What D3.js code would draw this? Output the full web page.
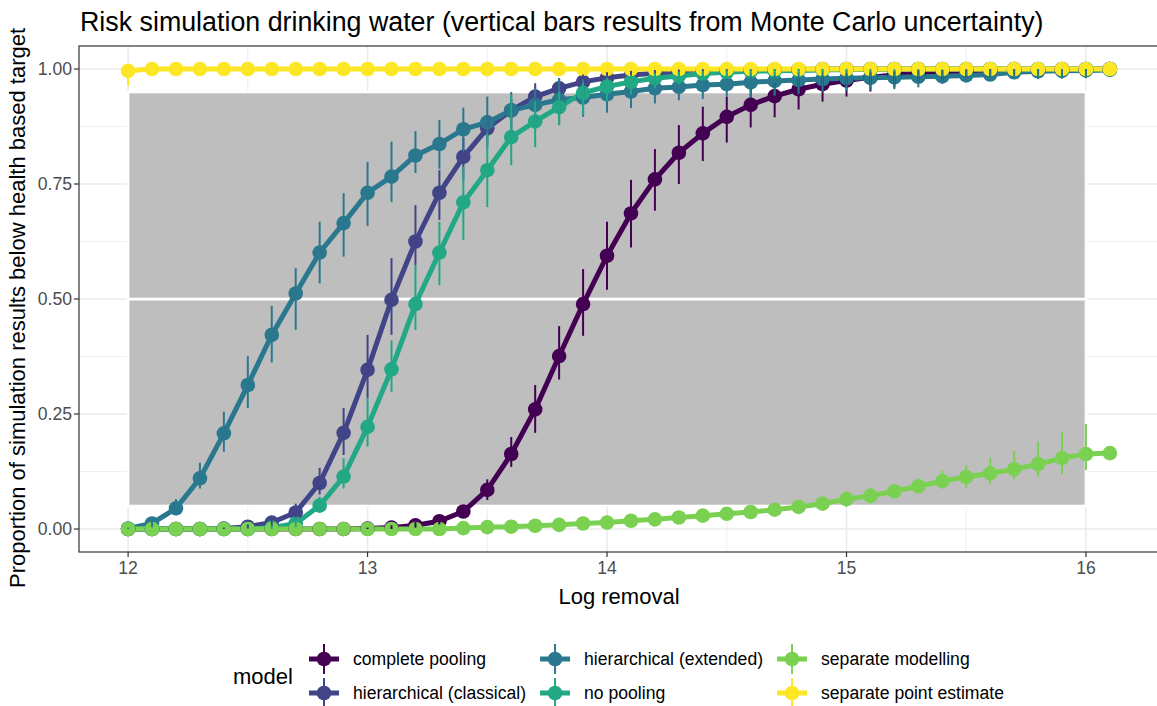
<!DOCTYPE html>
<html>
<head>
<meta charset="utf-8">
<script src="https://cdn.jsdelivr.net/npm/d3@7"></script>
<style>
  body { margin: 0; background: #fff; }
  text { font-family: "Liberation Sans", Arial, Helvetica, sans-serif; }
</style>
</head>
<body>
<svg id="chart" width="1157" height="706"></svg>
<script>
// Log removal levels evaluated
const logRemoval = [12.0, 12.1, 12.2, 12.3, 12.4, 12.5, 12.6, 12.7, 12.8, 12.9,
  13.0, 13.1, 13.2, 13.3, 13.4, 13.5, 13.6, 13.7, 13.8, 13.9,
  14.0, 14.1, 14.2, 14.3, 14.4, 14.5, 14.6, 14.7, 14.8, 14.9,
  15.0, 15.1, 15.2, 15.3, 15.4, 15.5, 15.6, 15.7, 15.8, 15.9,
  16.0, 16.1];

const models = ["complete pooling", "hierarchical (classical)", "hierarchical (extended)",
  "no pooling", "separate modelling", "separate point estimate"];
const modelColors = ["#440154", "#414487", "#2A788E", "#22A884", "#7AD151", "#FDE725"];

// Proportion below target: median and Monte Carlo interval per model
const completePooling = [0, 0, 0, 0, 0, 0, 0, 0, 0, 0,
  0.001, 0.003, 0.008, 0.017, 0.038, 0.085, 0.163, 0.26, 0.376, 0.489,
  0.594, 0.686, 0.76, 0.818, 0.86, 0.896, 0.922, 0.941, 0.956, 0.967,
  0.975, 0.982, 0.987, 0.99, 0.993, 0.995, 0.996, 0.997, 0.998, 0.999,
  0.999, 1];
const completePoolingLo = [0, 0, 0, 0, 0, 0, 0, 0, 0, 0,
  0, 0, 0.003, 0.01, 0.027, 0.063, 0.135, 0.209, 0.325, 0.42,
  0.52, 0.612, 0.692, 0.75, 0.8, 0.84, 0.873, 0.895, 0.912, 0.929,
  0.94, 0.951, 0.96, 0.97, 0.975, 0.98, 0.985, 0.988, 0.99, 0.993,
  0.995, 1];
const completePoolingHi = [0, 0, 0, 0, 0, 0, 0, 0, 0, 0,
  0.003, 0.008, 0.015, 0.025, 0.05, 0.108, 0.2, 0.313, 0.441, 0.565,
  0.668, 0.759, 0.826, 0.878, 0.918, 0.94, 0.958, 0.97, 0.98, 0.986,
  0.99, 0.993, 0.995, 0.997, 0.998, 0.999, 1, 1, 1, 1,
  1, 1];

const hierClassical = [0, 0, 0, 0, 0.001, 0.005, 0.014, 0.036, 0.1, 0.209,
  0.346, 0.498, 0.625, 0.731, 0.809, 0.871, 0.91, 0.94, 0.958, 0.972,
  0.981, 0.987, 0.991, 0.994, 0.996, 0.997, 0.998, 0.999, 0.999, 1,
  1, 1, 1, 1, 1, 1, 1, 1, 1, 1,
  1, 1];
const hierClassicalLo = [0, 0, 0, 0, 0, 0.001, 0.006, 0.02, 0.075, 0.161,
  0.285, 0.422, 0.574, 0.672, 0.76, 0.83, 0.87, 0.91, 0.93, 0.95,
  0.965, 0.975, 0.982, 0.987, 0.99, 0.993, 0.995, 0.996, 0.997, 0.998,
  0.999, 1, 1, 1, 1, 1, 1, 1, 1, 1,
  1, 1];
const hierClassicalHi = [0, 0, 0, 0, 0.003, 0.01, 0.025, 0.055, 0.133, 0.263,
  0.422, 0.589, 0.704, 0.78, 0.85, 0.9, 0.935, 0.969, 0.98, 0.988,
  0.993, 0.996, 0.998, 0.999, 1, 1, 1, 1, 1, 1,
  1, 1, 1, 1, 1, 1, 1, 1, 1, 1,
  1, 1];

const hierExtended = [0.001, 0.012, 0.045, 0.11, 0.208, 0.313, 0.422, 0.512, 0.601, 0.665,
  0.731, 0.766, 0.812, 0.837, 0.869, 0.884, 0.91, 0.922, 0.933, 0.938,
  0.945, 0.951, 0.958, 0.961, 0.965, 0.967, 0.971, 0.974, 0.976, 0.978,
  0.98, 0.981, 0.982, 0.983, 0.984, 0.986, 0.988, 0.993, 0.995, 0.996,
  0.997, 0.998];
const hierExtendedLo = [0, 0.004, 0.03, 0.088, 0.168, 0.263, 0.362, 0.433, 0.534, 0.592,
  0.659, 0.711, 0.774, 0.783, 0.82, 0.84, 0.86, 0.87, 0.878, 0.896,
  0.905, 0.915, 0.925, 0.932, 0.935, 0.94, 0.938, 0.942, 0.946, 0.95,
  0.952, 0.954, 0.956, 0.96, 0.968, 0.975, 0.977, 0.978, 0.978, 0.979,
  0.98, 0.998];
const hierExtendedHi = [0.003, 0.022, 0.065, 0.144, 0.255, 0.376, 0.485, 0.567, 0.668, 0.73,
  0.798, 0.842, 0.865, 0.889, 0.916, 0.94, 0.95, 0.96, 0.98, 0.978,
  0.982, 0.985, 0.987, 0.989, 0.99, 0.991, 0.992, 0.993, 0.994, 0.995,
  0.996, 0.997, 0.997, 0.998, 0.998, 0.999, 0.999, 1, 1, 1,
  1, 0.998];

const noPooling = [0, 0, 0, 0, 0, 0, 0.003, 0.012, 0.051, 0.114,
  0.222, 0.347, 0.489, 0.601, 0.71, 0.78, 0.852, 0.886, 0.917, 0.948,
  0.962, 0.972, 0.98, 0.985, 0.99, 0.993, 0.995, 0.996, 0.997, 0.998,
  0.999, 0.999, 1, 1, 1, 1, 1, 1, 1, 1,
  1, 1];
const noPoolingLo = [0, 0, 0, 0, 0, 0, 0, 0.004, 0.035, 0.088,
  0.179, 0.298, 0.433, 0.53, 0.628, 0.7, 0.791, 0.83, 0.878, 0.9,
  0.93, 0.945, 0.958, 0.967, 0.975, 0.98, 0.985, 0.988, 0.99, 0.992,
  0.994, 0.996, 0.997, 0.998, 0.999, 1, 1, 1, 1, 1,
  1, 1];
const noPoolingHi = [0, 0, 0, 0, 0, 0, 0.008, 0.025, 0.07, 0.154,
  0.285, 0.41, 0.574, 0.668, 0.788, 0.86, 0.943, 0.93, 0.95, 0.97,
  0.98, 0.987, 0.991, 0.994, 0.996, 0.998, 0.999, 1, 1, 1,
  1, 1, 1, 1, 1, 1, 1, 1, 1, 1,
  1, 1];

const separateModelling = [0, 0, 0, 0, 0, 0, 0, 0, 0, 0,
  0, 0, 0, 0, 0.002, 0.004, 0.005, 0.007, 0.009, 0.012,
  0.014, 0.018, 0.021, 0.025, 0.029, 0.033, 0.037, 0.042, 0.048, 0.055,
  0.065, 0.072, 0.082, 0.093, 0.104, 0.113, 0.121, 0.13, 0.141, 0.154,
  0.163, 0.165];
const separateModellingLo = [0, 0, 0, 0, 0, 0, 0, 0, 0, 0,
  0, 0, 0, 0, 0, 0.001, 0.002, 0.003, 0.004, 0.006,
  0.008, 0.01, 0.013, 0.016, 0.019, 0.022, 0.025, 0.029, 0.034, 0.04,
  0.048, 0.056, 0.068, 0.078, 0.088, 0.088, 0.098, 0.108, 0.114, 0.12,
  0.128, 0.165];
const separateModellingHi = [0, 0, 0, 0, 0, 0, 0, 0, 0, 0,
  0, 0, 0, 0, 0.004, 0.007, 0.009, 0.011, 0.014, 0.018,
  0.021, 0.026, 0.03, 0.034, 0.039, 0.044, 0.049, 0.055, 0.062, 0.07,
  0.082, 0.089, 0.097, 0.11, 0.127, 0.139, 0.156, 0.17, 0.19, 0.212,
  0.228, 0.165];

const pointEstimate = [0.996, 1, 1, 1, 1, 1, 1, 1, 1, 1,
  1, 1, 1, 1, 1, 1, 1, 1, 1, 1,
  1, 1, 1, 1, 1, 1, 1, 1, 1, 1,
  1, 1, 1, 1, 1, 1, 1, 1, 1, 1,
  1, 1];
const pointEstimateLo = [0.963, 1, 1, 1, 1, 1, 1, 1, 1, 1,
  1, 1, 1, 1, 1, 1, 1, 1, 1, 1,
  1, 1, 1, 1, 1, 1, 1, 1, 1, 1,
  1, 1, 1, 1, 1, 1, 1, 1, 1, 1,
  1, 1];
const pointEstimateHi = [1, 1, 1, 1, 1, 1, 1, 1, 1, 1,
  1, 1, 1, 1, 1, 1, 1, 1, 1, 1,
  1, 1, 1, 1, 1, 1, 1, 1, 1, 1,
  1, 1, 1, 1, 1, 1, 1, 1, 1, 1,
  1, 1];

// Shaded acceptance bands (lower and upper half of the 5%-95% range)
const bandRanges = [[0.05, 0.5], [0.5, 0.95]];
const bandX = [12, 16];

const xTicks = [12, 13, 14, 15, 16];
const xMinor = [12.5, 13.5, 14.5, 15.5];
const yTicks = [0, 0.25, 0.5, 0.75, 1];
const yMinor = [0.125, 0.375, 0.625, 0.875];

const seriesValues = [completePooling, hierClassical, hierExtended, noPooling, separateModelling, pointEstimate];
const seriesLo = [completePoolingLo, hierClassicalLo, hierExtendedLo, noPoolingLo, separateModellingLo, pointEstimateLo];
const seriesHi = [completePoolingHi, hierClassicalHi, hierExtendedHi, noPoolingHi, separateModellingHi, pointEstimateHi];

const series = models.map((m, k) => ({
  model: m,
  color: modelColors[k],
  pts: logRemoval.map((lr, i) => ({ x: lr, v: seriesValues[k][i], lo: seriesLo[k][i], hi: seriesHi[k][i] }))
}));

// ---- layout ----
const panel = { left: 79, right: 1159, top: 46, bottom: 552 };
const x = d3.scaleLinear().domain([11.795, 16.305]).range([panel.left, panel.right]);
const y = d3.scaleLinear().domain([-0.05, 1.05]).range([panel.bottom, panel.top]);

const svg = d3.select("#chart");
svg.append("rect").attr("width", 1157).attr("height", 706).attr("fill", "#fff");

svg.append("defs").append("clipPath").attr("id", "panelClip")
  .append("rect")
  .attr("x", panel.left).attr("y", panel.top)
  .attr("width", panel.right - panel.left).attr("height", panel.bottom - panel.top);

const plot = svg.append("g").attr("clip-path", "url(#panelClip)");

// grid
plot.selectAll("line.minor-x").data(xMinor).join("line")
  .attr("x1", d => x(d)).attr("x2", d => x(d))
  .attr("y1", panel.top).attr("y2", panel.bottom)
  .attr("stroke", "#EBEBEB").attr("stroke-width", 0.8);
plot.selectAll("line.minor-y").data(yMinor).join("line")
  .attr("x1", panel.left).attr("x2", panel.right)
  .attr("y1", d => y(d)).attr("y2", d => y(d))
  .attr("stroke", "#EBEBEB").attr("stroke-width", 0.8);
plot.selectAll("line.major-x").data(xTicks).join("line")
  .attr("x1", d => x(d)).attr("x2", d => x(d))
  .attr("y1", panel.top).attr("y2", panel.bottom)
  .attr("stroke", "#EBEBEB").attr("stroke-width", 1.6);
plot.selectAll("line.major-y").data(yTicks).join("line")
  .attr("x1", panel.left).attr("x2", panel.right)
  .attr("y1", d => y(d)).attr("y2", d => y(d))
  .attr("stroke", "#EBEBEB").attr("stroke-width", 1.6);

// gray bands
plot.selectAll("rect.band").data(bandRanges).join("rect")
  .attr("x", x(bandX[0])).attr("width", x(bandX[1]) - x(bandX[0]))
  .attr("y", d => y(d[1])).attr("height", d => y(d[0]) - y(d[1]))
  .attr("fill", "#BEBEBE").attr("stroke", "#fff").attr("stroke-width", 2.6);

// lines
const line = d3.line().x(d => x(d.x)).y(d => y(d.v));
plot.selectAll("path.series").data(series).join("path")
  .attr("d", d => line(d.pts))
  .attr("fill", "none")
  .attr("stroke", d => d.color)
  .attr("stroke-width", 5)
  .attr("stroke-linejoin", "round");

// points
series.forEach(s => {
  plot.append("g").selectAll("circle").data(s.pts).join("circle")
    .attr("cx", d => x(d.x)).attr("cy", d => y(d.v)).attr("r", 7.3)
    .attr("fill", s.color);
});

// uncertainty bars
series.forEach(s => {
  plot.append("g").selectAll("line").data(s.pts.filter(d => d.hi > d.lo)).join("line")
    .attr("x1", d => x(d.x)).attr("x2", d => x(d.x))
    .attr("y1", d => y(d.lo)).attr("y2", d => y(d.hi))
    .attr("stroke", s.color).attr("stroke-width", 2);
});

// panel border
svg.append("rect")
  .attr("x", panel.left).attr("y", panel.top)
  .attr("width", panel.right - panel.left).attr("height", panel.bottom - panel.top)
  .attr("fill", "none").attr("stroke", "#333333").attr("stroke-width", 1.2);

// axes
const xAxis = svg.append("g");
xAxis.selectAll("line").data(xTicks).join("line")
  .attr("x1", d => x(d)).attr("x2", d => x(d))
  .attr("y1", panel.bottom).attr("y2", panel.bottom + 5)
  .attr("stroke", "#333333").attr("stroke-width", 1.2);
xAxis.selectAll("text").data(xTicks).join("text")
  .attr("x", d => x(d)).attr("y", panel.bottom + 22)
  .attr("text-anchor", "middle").attr("font-size", 17.6).attr("fill", "#4D4D4D")
  .text(d => d);

const yAxis = svg.append("g");
yAxis.selectAll("line").data(yTicks).join("line")
  .attr("x1", panel.left - 5).attr("x2", panel.left)
  .attr("y1", d => y(d)).attr("y2", d => y(d))
  .attr("stroke", "#333333").attr("stroke-width", 1.2);
yAxis.selectAll("text").data(yTicks).join("text")
  .attr("x", panel.left - 7).attr("y", d => y(d) + 6)
  .attr("text-anchor", "end").attr("font-size", 17.6).attr("fill", "#4D4D4D")
  .text(d => d3.format(".2f")(d));

// titles
svg.append("text").attr("x", 80).attr("y", 31)
  .attr("font-size", 26.8).attr("fill", "#000")
  .text("Risk simulation drinking water (vertical bars results from Monte Carlo uncertainty)");
svg.append("text").attr("x", (panel.left + panel.right) / 2).attr("y", 604)
  .attr("text-anchor", "middle").attr("font-size", 22).attr("fill", "#000")
  .text("Log removal");
svg.append("text")
  .attr("transform", "translate(25,308) rotate(-90)")
  .attr("text-anchor", "middle").attr("font-size", 22).attr("fill", "#000")
  .text("Proportion of simulation results below health based target");

// legend
const legend = svg.append("g");
legend.append("text").attr("x", 233).attr("y", 684)
  .attr("font-size", 22).attr("fill", "#000").text("model");

const rowsY = [659, 693];
const nCols = 3;
let keyCx = 324;
for (let c = 0; c < nCols; c++) {
  let maxW = 0;
  for (let r = 0; r < 2; r++) {
    const k = c * 2 + r;
    const g = legend.append("g").attr("transform", `translate(${keyCx},${rowsY[r]})`);
    g.append("line").attr("x1", -15).attr("x2", 15).attr("y1", 0).attr("y2", 0)
      .attr("stroke", modelColors[k]).attr("stroke-width", 5);
    g.append("circle").attr("r", 7.3).attr("fill", modelColors[k]);
    g.append("line").attr("x1", 0).attr("x2", 0).attr("y1", -15).attr("y2", 15)
      .attr("stroke", modelColors[k]).attr("stroke-width", 2);
    const t = legend.append("text").attr("x", keyCx + 29).attr("y", rowsY[r] + 6)
      .attr("font-size", 17.6).attr("fill", "#000").text(models[k]);
    maxW = Math.max(maxW, t.node().getComputedTextLength());
  }
  keyCx = keyCx + 29 + maxW + 29;
}
</script>
</body>
</html>
